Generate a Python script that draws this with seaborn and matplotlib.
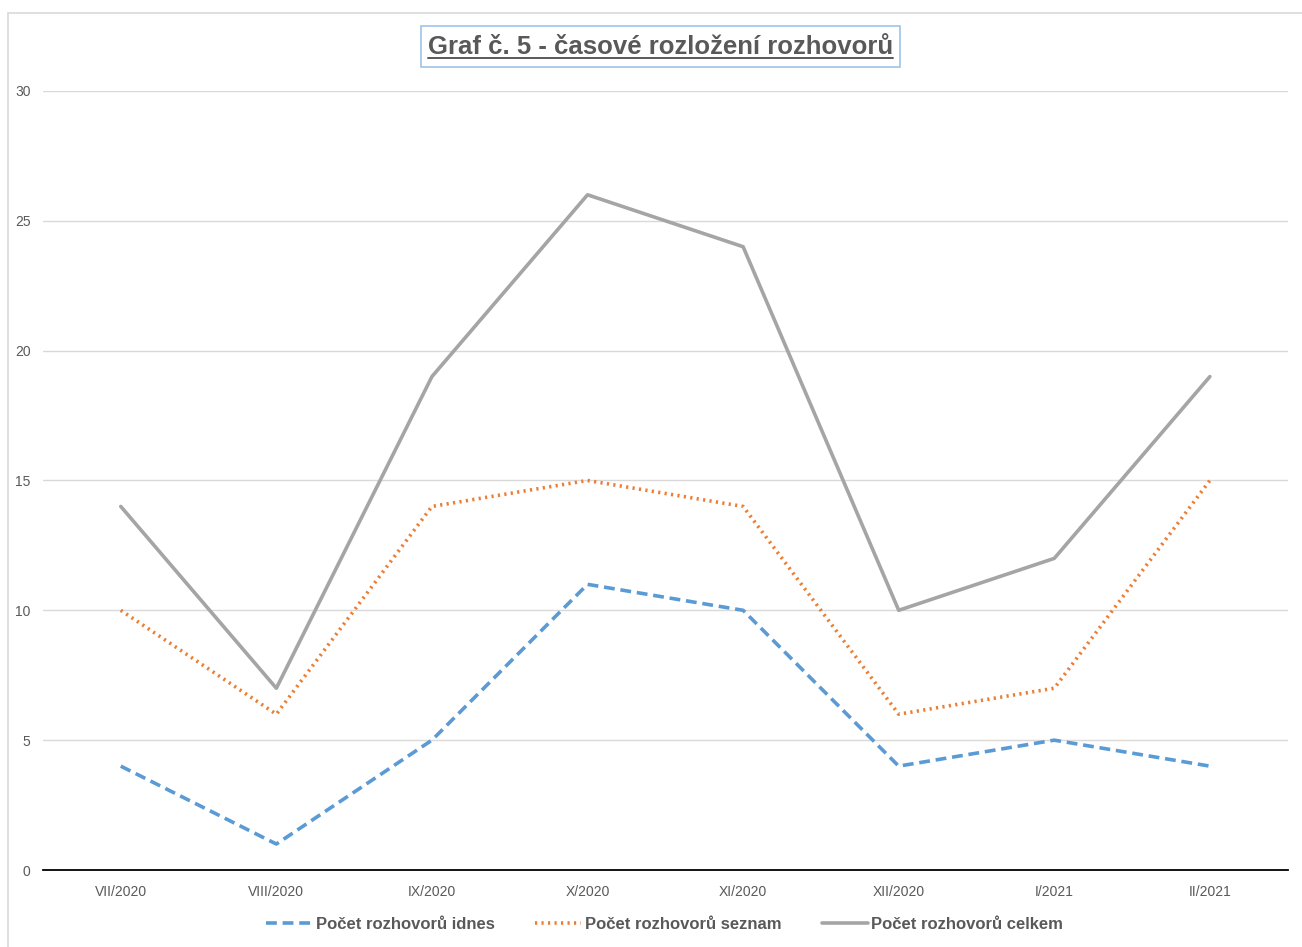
import pandas as pd
import numpy as np
import matplotlib.pyplot as plt
import seaborn as sns
from matplotlib.lines import Line2D
from matplotlib.patches import Rectangle

months = ['VII/2020', 'VIII/2020', 'IX/2020', 'X/2020', 'XI/2020', 'XII/2020', 'I/2021', 'II/2021']
idnes = [4, 1, 5, 11, 10, 4, 5, 4]
seznam = [10, 6, 14, 15, 14, 6, 7, 15]
celkem = [14, 7, 19, 26, 24, 10, 12, 19]
series_names = ['Počet rozhovorů idnes', 'Počet rozhovorů seznam', 'Počet rozhovorů celkem']

df = pd.DataFrame({
    'x': list(range(len(months))) * 3,
    'value': idnes + seznam + celkem,
    'series': [s for s in series_names for _ in months],
})

sns.set_style('white')
plt.rcParams['font.family'] = ['Liberation Sans Narrow', 'Liberation Sans', 'DejaVu Sans']

fig = plt.figure(figsize=(13.02, 9.47), dpi=100)
ax = fig.add_axes([0.033, 0.0813, 0.956, 0.8227])

palette = {series_names[0]: '#5B9BD5', series_names[1]: '#ED7D31', series_names[2]: '#A5A5A5'}
dashes = {series_names[0]: (3, 1.6), series_names[1]: (0.6, 1.2), series_names[2]: ''}
sns.lineplot(data=df, x='x', y='value', hue='series', style='series', palette=palette,
             dashes=dashes, linewidth=2.6, ax=ax, legend=False)

ax.set_xlim(-0.5, len(months) - 0.5)
ax.set_ylim(0, 30)
ax.set_yticks(range(0, 31, 5))
ax.yaxis.grid(True, color='#D9D9D9', linewidth=1)
ax.xaxis.grid(False)
ax.set_xticks(range(len(months)))
ax.set_xticklabels(months)
ax.set_xticks(np.arange(-0.5, len(months)), minor=True)
ax.tick_params(axis='x', which='major', length=0, pad=11, labelsize=10, labelcolor='#595959')
ax.tick_params(axis='x', which='minor', length=5, width=1, color='black', direction='out')
ax.tick_params(axis='y', length=0, pad=9, labelsize=10, labelcolor='#595959')
ax.set_xlabel('')
ax.set_ylabel('')
for side in ['top', 'right', 'left']:
    ax.spines[side].set_visible(False)
ax.spines['bottom'].set_color('black')
ax.spines['bottom'].set_linewidth(1.3)

# legend
handles = [Line2D([], [], color=palette[series_names[0]], linewidth=2.6, dashes=dashes[series_names[0]]),
           Line2D([], [], color=palette[series_names[1]], linewidth=2.6, dashes=dashes[series_names[1]]),
           Line2D([], [], color=palette[series_names[2]], linewidth=2.6)]
leg = fig.legend(handles, series_names, loc='center', bbox_to_anchor=(0.5105, 0.024), ncol=3,
                 frameon=False, handlelength=2.75, handletextpad=0.2, columnspacing=2.45,
                 prop={'weight': 'bold', 'size': 12})
for t in leg.get_texts():
    t.set_color('#595959')

# title in a box, underlined
title = fig.text(0.507, 0.95, 'Graf č. 5 - časové rozložení rozhovorů', ha='center', va='center',
                 fontsize=18.5, fontweight='bold', color='#595959',
                 family=['Liberation Sans', 'DejaVu Sans'], zorder=6)
fig.canvas.draw()
bb = title.get_window_extent(renderer=fig.canvas.get_renderer())
W, H = fig.bbox.width, fig.bbox.height
ux0, ux1 = bb.x0 / W, bb.x1 / W
uy = (bb.y0 + 1.5) / H
fig.add_artist(Line2D([ux0, ux1], [uy, uy], transform=fig.transFigure,
                      color='#595959', linewidth=1.4, zorder=7))
fig.add_artist(Rectangle(((bb.x0 - 7) / W, (bb.y0 - 8) / H), (bb.width + 14) / W, (bb.height + 17) / H,
                         transform=fig.transFigure, facecolor='white', edgecolor='#9DC3E6',
                         linewidth=1.2, zorder=5))

# chart area border
fig.add_artist(Rectangle((0.006, -0.01), 1.2, 0.996, transform=fig.transFigure,
                         fill=False, edgecolor='#D9D9D9', linewidth=1.2))

fig.savefig('out.png', dpi=100)
